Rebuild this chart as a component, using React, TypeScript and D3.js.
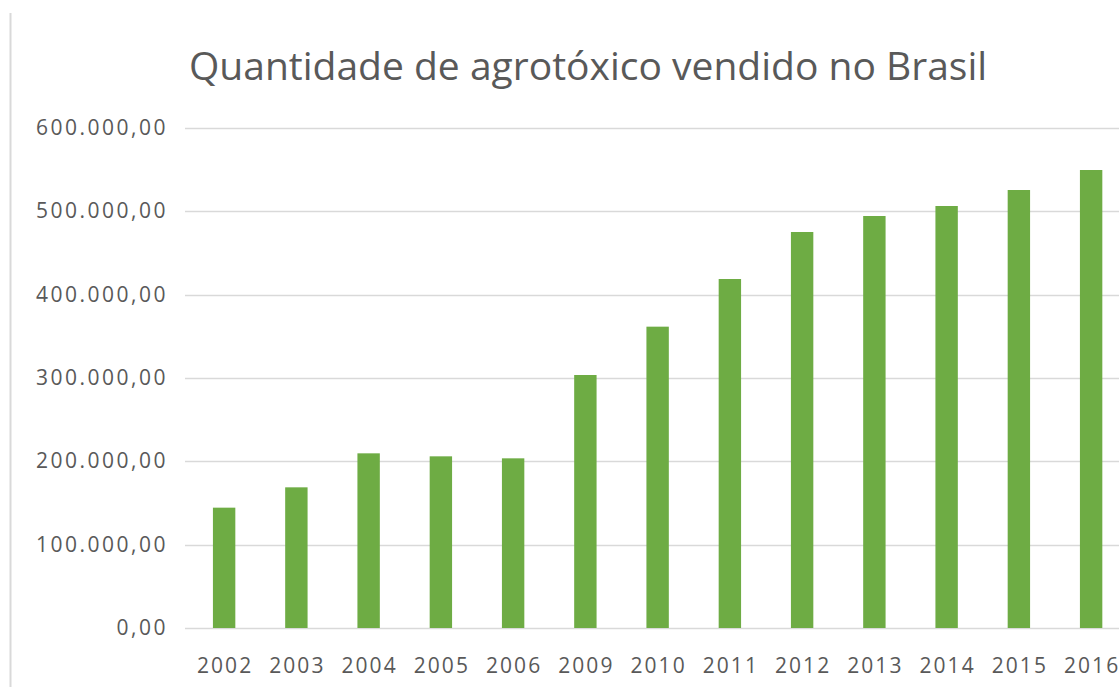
import React from "react";
import * as d3 from "d3";

const years = ["2002", "2003", "2004", "2005", "2006", "2009", "2010", "2011", "2012", "2013", "2014", "2015", "2016"];
const quantities = [144400, 168800, 209600, 206000, 203600, 303600, 361600, 418800, 475200, 494400, 506400, 525600, 549600];
const yTicks = [0, 100000, 200000, 300000, 400000, 500000, 600000];
const title = "Quantidade de agrotóxico vendido no Brasil";

const W = 1119;
const H = 687;

const fmt = (v: number) => {
  const s = d3.format(",.2f")(v);
  return s.replace(/,/g, "#").replace(".", ",").replace(/#/g, ".");
};

export default function App() {
  const x = d3.scaleBand<string>().domain(years).range([188, 188 + 13 * 72.25]).paddingInner(0.69).paddingOuter(0.345);
  const y = d3.scaleLinear().domain([0, 600000]).range([628, 128]);
  const font = "'Open Sans', 'Noto Sans', sans-serif";
  return (
    <svg width={W} height={H} style={{ position: "fixed", left: 0, top: 0, background: "#fff" }}>
      <rect x={0} y={0} width={W} height={H} fill="#fff" />
      <line x1={10.5} x2={10.5} y1={13} y2={H} stroke="#d9d9d9" strokeWidth={2} />
      <text x={189} y={80} fontFamily={font} fontSize={39} fill="#595959">{title}</text>
      {yTicks.map((t) => (
        <g key={t}>
          <line x1={185} x2={W} y1={Math.round(y(t)) + 0.5} y2={Math.round(y(t)) + 0.5} stroke="#d9d9d9" strokeWidth={1.5} />
          <text x={168} y={y(t) + 7} textAnchor="end" fontFamily={font} fontSize={21} letterSpacing={2.5} fill="#595959">{fmt(t)}</text>
        </g>
      ))}
      {years.map((yr, i) => (
        <rect key={yr} x={x(yr)} y={y(quantities[i])} width={x.bandwidth()} height={y(0) - y(quantities[i])} fill="#6eac44" />
      ))}
      {years.map((yr) => (
        <text key={yr} x={(x(yr) as number) + x.bandwidth() / 2 + 1} y={673} textAnchor="middle" fontFamily={font} fontSize={21} letterSpacing={2} fill="#595959">{yr}</text>
      ))}
    </svg>
  );
}
